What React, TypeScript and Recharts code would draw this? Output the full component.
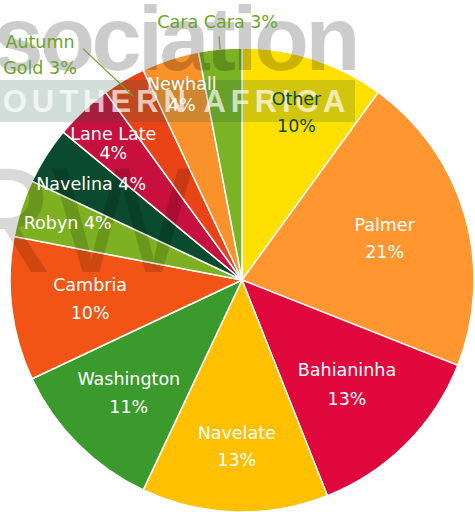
import { PieChart, Pie, Cell } from 'recharts'

const varieties = ['Other', 'Palmer', 'Bahianinha', 'Navelate', 'Washington', 'Cambria', 'Robyn', 'Navelina', 'Lane Late', 'Autumn Gold', 'Newhall', 'Cara Cara']
const shares = [10, 21, 13, 13, 11, 10, 4, 4, 4, 3, 4, 3]
const colors = ['#FFE000', '#FF962F', '#E0073C', '#FFC000', '#3A9A2C', '#F15414', '#7DB121', '#0A4A2E', '#C8103E', '#EA4416', '#FA922C', '#7AB324']

// label placement: fraction of radius, line gap (0 = one line), -1 = outside label
const labelRadius = [0.76, 0.64, 0.64, 0.72, 0.69, 0.66, 0.79, 0.77, 0.81, -1, 0.84, -1]
const labelGap = [27, 27, 29, 27, 28, 28, 0, 0, 19, 0, 21, 0]

const W = 475
const H = 512
const CX = 242
const CY = 280
const R = 232
const RADIAN = Math.PI / 180
const FONT = '"DejaVu Sans", sans-serif'
const OUT_GREEN = '#6BA52A'

const data = varieties.map((name, i) => ({ name, value: shares[i] }))

const pt = (cx: number, cy: number, r: number, ang: number) => ({
  x: cx + r * Math.cos(-ang * RADIAN),
  y: cy + r * Math.sin(-ang * RADIAN),
})

function renderLabel(props: any) {
  const { cx, cy, midAngle, outerRadius, index } = props
  const name = varieties[index]
  const pct = `${shares[index]}%`
  const fr = labelRadius[index]

  if (fr < 0) {
    if (name === 'Autumn Gold') {
      const a = pt(cx, cy, outerRadius * 0.92, midAngle)
      const b = pt(cx, cy, outerRadius * 1.21, midAngle + 3.9)
      return (
        <g>
          <line x1={a.x} y1={a.y} x2={b.x} y2={b.y} stroke={OUT_GREEN} strokeWidth={1.2} />
          <text x={b.x - 43} y={b.y - 7} textAnchor="middle" dominantBaseline="central" fill={OUT_GREEN} fontSize={17.5} fontFamily={FONT}>
            Autumn
          </text>
          <text x={b.x - 43} y={b.y + 19} textAnchor="middle" dominantBaseline="central" fill={OUT_GREEN} fontSize={17.5} fontFamily={FONT}>
            Gold {pct}
          </text>
        </g>
      )
    }
    const a = pt(cx, cy, outerRadius, midAngle)
    const b = pt(cx, cy, outerRadius * 1.055, midAngle)
    const t = pt(cx, cy, outerRadius * 1.115, midAngle)
    return (
      <g>
        <line x1={a.x} y1={a.y} x2={b.x} y2={b.y} stroke={OUT_GREEN} strokeWidth={1.2} />
        <text x={t.x} y={t.y} textAnchor="middle" dominantBaseline="central" fill={OUT_GREEN} fontSize={17.5} fontFamily={FONT}>
          {name} {pct}
        </text>
      </g>
    )
  }

  const p = pt(cx, cy, outerRadius * fr, midAngle)
  const fill = name === 'Other' ? '#0B4A2C' : '#ffffff'
  const gap = labelGap[index]
  if (gap === 0) {
    return (
      <text x={p.x} y={p.y} textAnchor="middle" dominantBaseline="central" fill={fill} fontSize={17.5} fontFamily={FONT}>
        {name} {pct}
      </text>
    )
  }
  return (
    <g>
      <text x={p.x} y={p.y - gap / 2} textAnchor="middle" dominantBaseline="central" fill={fill} fontSize={17.5} fontFamily={FONT}>
        {name}
      </text>
      <text x={p.x} y={p.y + gap / 2} textAnchor="middle" dominantBaseline="central" fill={fill} fontSize={17.5} fontFamily={FONT}>
        {pct}
      </text>
    </g>
  )
}

const layer: React.CSSProperties = { position: 'absolute', left: 0, top: 0, width: W, height: H }

export default function App() {
  return (
    <div style={{ position: 'absolute', left: 0, top: 0, width: W, height: H, background: '#fff', overflow: 'hidden' }}>
      {/* slices */}
      <div style={layer}>
        <PieChart width={W} height={H} margin={{ top: 0, right: 0, bottom: 0, left: 0 }}>
          <Pie
            data={data}
            dataKey="value"
            nameKey="name"
            cx={CX}
            cy={CY}
            outerRadius={R}
            startAngle={90}
            endAngle={-270}
            stroke="#ffffff"
            strokeWidth={1.5}
            isAnimationActive={false}
          >
            {data.map((d, i) => (
              <Cell key={d.name} fill={colors[i]} />
            ))}
          </Pie>
        </PieChart>
      </div>

      {/* watermark sits over the slices */}
      <svg style={{ ...layer, pointerEvents: 'none' }} width={W} height={H}>
        <text x={357} y={70} textAnchor="end" fontSize={90} fontWeight="bold" letterSpacing={-3.5} fontFamily='"Liberation Sans", Arial, sans-serif' fill="#000" fillOpacity={0.2}>
          Association
        </text>
        <rect x={0} y={80} width={355} height={42} fill="#1f5a40" fillOpacity={0.2} />
        <text x={-23} y={112} fontSize={31} fontWeight="bold" letterSpacing={5} fontFamily='"Liberation Sans Narrow", "Liberation Sans", sans-serif' fill="#fff" fillOpacity={0.7}>
          SOUTHERN AFRICA
        </text>
        <text x={-54} y={272} fontSize={150} fontFamily='"Liberation Sans Narrow", "Liberation Sans", sans-serif' fill="#000" fillOpacity={0.15}>
          RW
        </text>
      </svg>

      {/* labels on top */}
      <div style={layer}>
        <PieChart width={W} height={H} margin={{ top: 0, right: 0, bottom: 0, left: 0 }}>
          <Pie
            data={data}
            dataKey="value"
            nameKey="name"
            cx={CX}
            cy={CY}
            outerRadius={R}
            startAngle={90}
            endAngle={-270}
            fill="none"
            stroke="none"
            label={renderLabel}
            labelLine={false}
            isAnimationActive={false}
          >
            {data.map((d) => (
              <Cell key={d.name} fill="transparent" stroke="none" />
            ))}
          </Pie>
        </PieChart>
      </div>
    </div>
  )
}
